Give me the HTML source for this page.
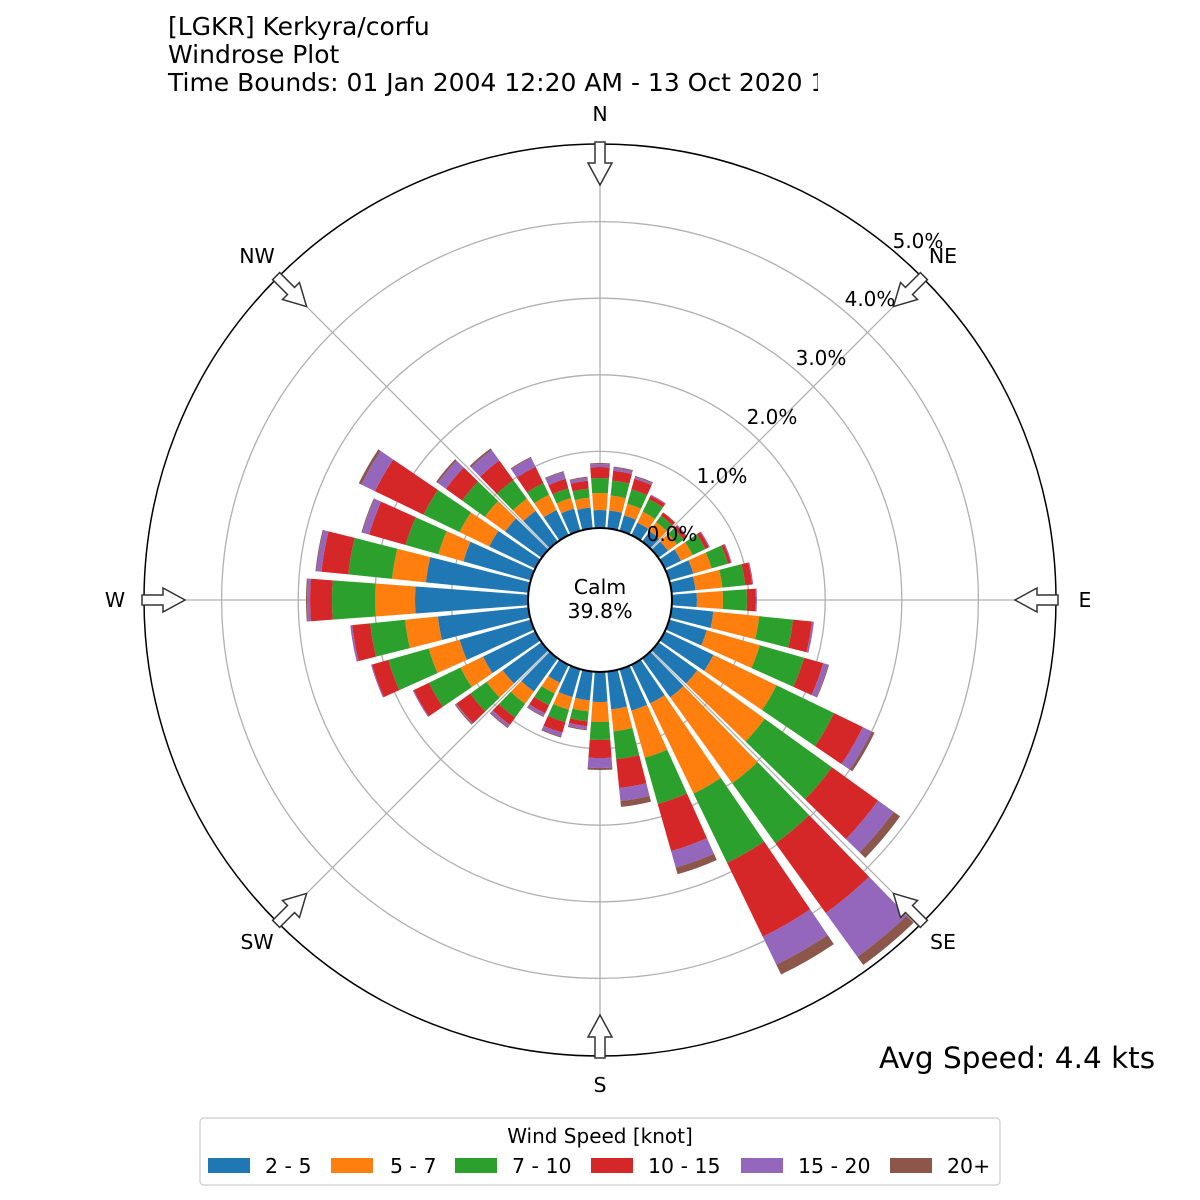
<!DOCTYPE html>
<html><head><meta charset="utf-8"><style>
body{margin:0;background:#fff;}
svg{display:block;font-family:"DejaVu Sans","Liberation Sans",sans-serif;}
</style></head><body>
<svg id="s" width="1200" height="1200" viewBox="0 0 1200 1200" xmlns="http://www.w3.org/2000/svg">
<rect width="1200" height="1200" fill="#fff"/>
<g id="grid" fill="none" stroke="#b0b0b0" stroke-width="1.3"></g>
<g id="bars"></g>
<circle cx="600" cy="600" r="456" fill="none" stroke="#000" stroke-width="1.5"/>
<circle cx="600" cy="600" r="72" fill="#fff" stroke="#000" stroke-width="2"/>
<g id="arrows" fill="#fff" stroke="#333" stroke-width="1.5"></g>
<text x="600" y="594" font-size="20.5" text-anchor="middle">Calm</text>
<text x="600" y="618" font-size="20.5" text-anchor="middle">39.8%</text>
<g font-size="20" text-anchor="middle">
<text x="672" y="541">0.0%</text><text x="722" y="483">1.0%</text><text x="772" y="424">2.0%</text>
<text x="821" y="365">3.0%</text><text x="870" y="306">4.0%</text><text x="918" y="248">5.0%</text>
</g>
<g font-size="20.5" text-anchor="middle">
<text x="600" y="121">N</text><text x="600" y="1092">S</text><text x="1085" y="607">E</text><text x="115" y="607">W</text>
<text x="943" y="263">NE</text><text x="257" y="263">NW</text><text x="943" y="949">SE</text><text x="257" y="949">SW</text>
</g>
<g font-size="25">
<text x="168" y="35">[LGKR] Kerkyra/corfu</text>
<text x="168" y="63">Windrose Plot</text>
<text x="168" y="91">Time Bounds: 01 Jan 2004 12:20 AM - 13 Oct 2020 1</text>
</g>
<rect x="818" y="64" width="140" height="36" fill="#fff"/>
<text x="879" y="1068" font-size="29.5">Avg Speed: 4.4 kts</text>
<rect x="200" y="1118" width="800" height="67" rx="4" fill="#fff" stroke="#ccc" stroke-width="1.2"/>
<text x="600" y="1143" font-size="20" text-anchor="middle">Wind Speed [knot]</text>
<g font-size="20.5">
<rect x="208" y="1158" width="42" height="15" fill="#1f77b4"/><text x="265" y="1173">2 - 5</text>
<rect x="331" y="1158" width="42" height="15" fill="#ff7f0e"/><text x="390" y="1173">5 - 7</text>
<rect x="455" y="1158" width="42" height="15" fill="#2ca02c"/><text x="512" y="1173">7 - 10</text>
<rect x="591" y="1158" width="42" height="15" fill="#d62728"/><text x="648" y="1173">10 - 15</text>
<rect x="741" y="1158" width="42" height="15" fill="#9467bd"/><text x="798" y="1173">15 - 20</text>
<rect x="890" y="1158" width="42" height="15" fill="#8c564b"/><text x="947" y="1173">20+</text>
</g>
</svg>
<script>
var NS="http://www.w3.org/2000/svg",cx=600,cy=600;
function P(r,a){a=a*Math.PI/180;return [cx+r*Math.sin(a),cy-r*Math.cos(a)];}
function el(t,at,p){var e=document.createElementNS(NS,t);for(var k in at)e.setAttribute(k,at[k]);p.appendChild(e);return e;}
var g=document.getElementById('grid');
for(var k=1;k<=4;k++)el('circle',{cx:cx,cy:cy,r:72+76.6*k},g);
for(var a=0;a<360;a+=45){var p0=P(72,a),p1=P(456,a);el('line',{x1:p0[0],y1:p0[1],x2:p1[0],y2:p1[1]},g);}
var D=[[90,107,122,133,136,137],[90,105,120,130,133,134],[88,100,115,126,128,129],[86,98,112,116,117,117],[85,96,104,108,108,108],[84,95,103,107,108,108],[90,103,117,121,122,122],[97,116,133,136,137,137],[96,123,146,153,154,154],[97,123,147,156,157,157],[114,160,194,213,215,215],[111,166,212,232,237,238],[126,196,260,292,302,305],[120,203,286,343,362,370],[120,226,300,386,440,450],[115,215,292,374,405,416],[115,164,212,261,278,285],[110,132,160,189,202,208],[102,122,140,158,168,170],[101,112,122,127,130,131],[101,114,127,138,142,143],[92,104,117,126,129,130],[113,128,145,154,157,158],[120,140,160,177,178,179],[130,155,190,207,208,208],[146,178,220,237,238,238],[163,196,231,249,251,251],[185,225,268,290,293,294],[175,209,253,280,285,286],[142,168,202,240,247,248],[123,156,196,250,265,268],[117,142,170,190,200,202],[110,125,148,172,185,187],[100,117,130,148,158,159],[95,106,116,126,133,134],[93,103,112,120,123,124]];
var C=['#1f77b4','#ff7f0e','#2ca02c','#d62728','#9467bd','#8c564b'];
var b=document.getElementById('bars'),hw=4.2;
D.forEach(function(v,i){var a=i*10,r0=72;
 v.forEach(function(r1,j){if(r1<=r0+0.1)return;
  var a1=P(r0,a-hw),a2=P(r1,a-hw),a3=P(r1,a+hw),a4=P(r0,a+hw);
  el('path',{d:'M'+a1+'L'+a2+'A'+r1+' '+r1+' 0 0 1 '+a3+'L'+a4+'A'+r0+' '+r0+' 0 0 0 '+a1+'Z',fill:C[j]},b);r0=r1;});});
var ar=document.getElementById('arrows');
for(var a=0;a<360;a+=45){var pts=[[458,-5],[437,-5],[437,-12],[415,0],[437,12],[437,5],[458,5]].map(function(q){var ang=a*Math.PI/180;var x=cx+q[0]*Math.sin(ang)+q[1]*Math.cos(ang),y=cy-q[0]*Math.cos(ang)+q[1]*Math.sin(ang);return x+','+y;}).join(' ');
 el('polygon',{points:pts},ar);}
</script>
</body></html>
